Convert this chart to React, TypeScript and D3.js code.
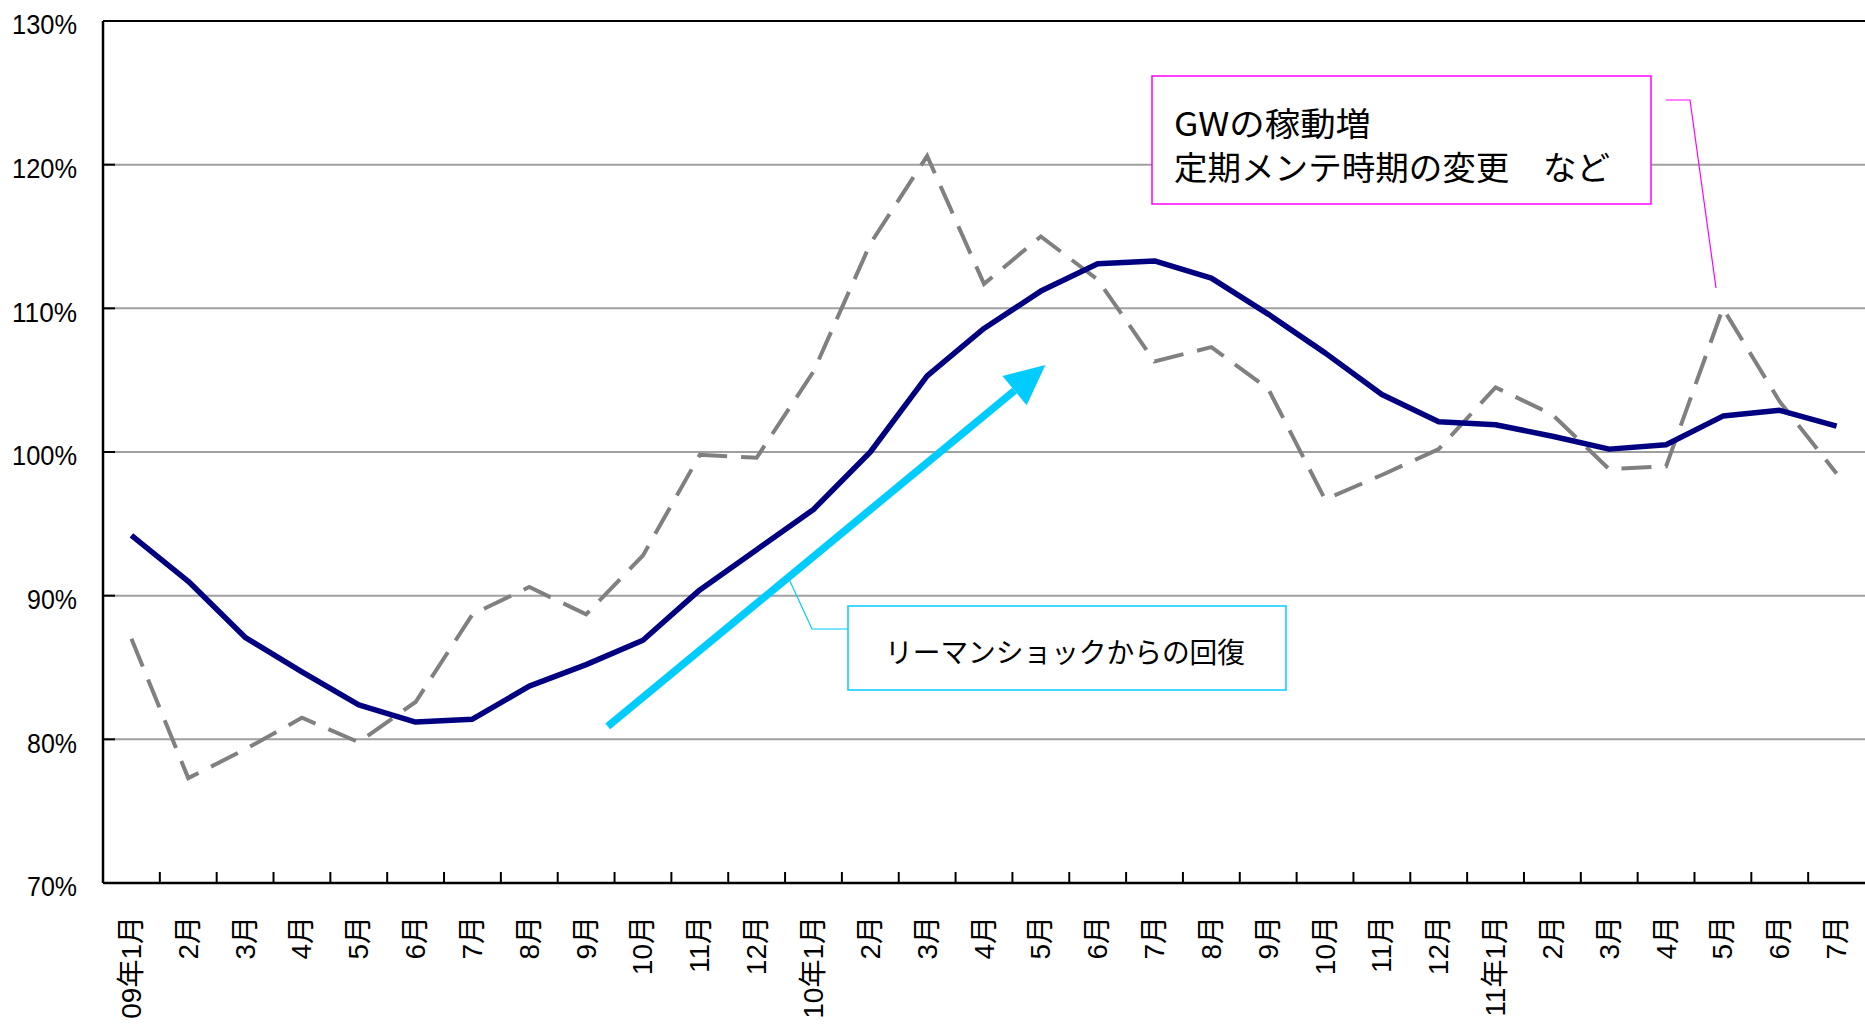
import React from "react";
import * as d3 from "d3";

const months = [
  "09年1月", "2月", "3月", "4月", "5月", "6月", "7月", "8月", "9月", "10月", "11月", "12月",
  "10年1月", "2月", "3月", "4月", "5月", "6月", "7月", "8月", "9月", "10月", "11月", "12月",
  "11年1月", "2月", "3月", "4月", "5月", "6月", "7月",
];
const trendValues = [
  94.2, 91.0, 87.1, 84.7, 82.4, 81.2, 81.4, 83.7, 85.2, 86.9, 90.4, 93.2,
  96.0, 100.0, 105.3, 108.6, 111.2, 113.1, 113.3, 112.1, 109.6, 106.9, 104.0, 102.1,
  101.9, 101.1, 100.2, 100.5, 102.5, 102.9, 101.8,
];
const monthlyValues = [
  87.0, 77.3, 79.3, 81.5, 79.8, 82.6, 88.7, 90.6, 88.7, 92.8, 99.8, 99.6,
  105.6, 114.5, 120.6, 111.7, 115.0, 112.0, 106.3, 107.3, 104.4, 96.7, 98.4, 100.2,
  104.5, 102.6, 98.8, 99.0, 110.0, 103.5, 98.5,
];
const yTicks = [70, 80, 90, 100, 110, 120, 130];

// annotations, in data units (category index, percent)
const arrowFrom = [8.38, 80.9];
const arrowTo = [16.08, 106.05];
const noteRecovery = "リーマンショックからの回復";
const noteGW = ["GWの稼動増", "定期メンテ時期の変更　など"];

const W = 1865;
const H = 1033;
const left = 103;
const top = 21;
const bottom = 883;

export default function App() {
  const idx = months.map((_, i) => i);
  const x = d3.scaleBand<number>().domain(idx).range([left, W]).padding(0);
  const bw = x.bandwidth();
  const cx = (i: number) => left + (i + 0.5) * bw;
  const y = d3.scaleLinear().domain([70, 130]).range([bottom, top]);

  const line = d3
    .line<number>()
    .x((_, i) => cx(i))
    .y((d) => y(d));

  // arrow geometry
  const x1 = cx(arrowFrom[0]);
  const y1 = y(arrowFrom[1]);
  const x2 = cx(arrowTo[0]);
  const y2 = y(arrowTo[1]);
  const ang = Math.atan2(y2 - y1, x2 - x1);
  const headLen = 40;
  const headHalf = 19;
  const bx = x2 - headLen * Math.cos(ang);
  const by = y2 - headLen * Math.sin(ang);
  const px = -Math.sin(ang) * headHalf;
  const py = Math.cos(ang) * headHalf;

  const font = "'Noto Sans CJK JP', 'Noto Sans', sans-serif";
  const tickFont = "'Liberation Sans', 'Noto Sans CJK JP', sans-serif";

  return (
    <svg
      width={W}
      height={H}
      style={{ position: "absolute", left: 0, top: 0, background: "#fff" }}
      fontFamily={font}
    >
      {/* grid */}
      {yTicks.map((t) => (
        <line key={"g" + t} x1={left} x2={W} y1={y(t)} y2={y(t)} stroke="#a0a0a0" strokeWidth={2} />
      ))}
      {/* frame */}
      <line x1={left} x2={W} y1={top} y2={top} stroke="#000" strokeWidth={2} />
      <line x1={left} x2={left} y1={top} y2={bottom} stroke="#000" strokeWidth={2.5} />
      <line x1={left} x2={W} y1={bottom} y2={bottom} stroke="#000" strokeWidth={2.5} />
      {/* y ticks */}
      {yTicks.map((t) => (
        <g key={"yt" + t}>
          <line x1={left} x2={left + 12} y1={y(t)} y2={y(t)} stroke="#000" strokeWidth={2} />
          <text
            x={77}
            y={y(t) + 4}
            dy="0.35em"
            textAnchor="end"
            fontSize={27}
            fontFamily={tickFont}
            textLength={t >= 100 ? 65 : 50}
            lengthAdjust="spacingAndGlyphs"
            fill="#000"
          >
            {t}%
          </text>
        </g>
      ))}
      {/* x ticks + labels */}
      {idx.slice(1).map((i) => (
        <line key={"xt" + i} x1={x(i)} x2={x(i)} y1={bottom} y2={bottom - 11} stroke="#000" strokeWidth={2} />
      ))}
      {months.map((m, i) => (
        <text
          key={"xl" + i}
          transform={`translate(${cx(i)},916) rotate(-90)`}
          textAnchor="end"
          dominantBaseline="central"
          fontSize={28}
          fontFamily={tickFont}
          fill="#000"
        >
          {m}
        </text>
      ))}

      {/* series */}
      <path d={line(monthlyValues) || ""} fill="none" stroke="#808080" strokeWidth={4} strokeDasharray="30 14" />
      <path d={line(trendValues) || ""} fill="none" stroke="#000080" strokeWidth={5.5} strokeLinejoin="round" />

      {/* recovery arrow */}
      <line x1={x1} y1={y1} x2={bx} y2={by} stroke="#00ccff" strokeWidth={7.5} />
      <polygon
        points={`${x2},${y2} ${bx + px},${by + py} ${bx - px},${by - py}`}
        fill="#00ccff"
      />

      {/* recovery callout */}
      <polyline points="848,629 812,629 789,579" fill="none" stroke="#00ccff" strokeWidth={1.2} />
      <rect x={848} y={606} width={438} height={84} fill="#fff" stroke="#00ccff" strokeWidth={1.5} />
      <text x={885} y={663} fontSize={28} textLength={360} lengthAdjust="spacingAndGlyphs" fill="#000">
        {noteRecovery}
      </text>

      {/* GW callout */}
      <polyline points="1666,100 1690,100 1716,288" fill="none" stroke="#ff00ff" strokeWidth={1.2} />
      <rect x={1152} y={76} width={499} height={128} fill="#fff" stroke="#ff00ff" strokeWidth={1.5} />
      <text x={1174} y={136} fontSize={33} textLength={197} lengthAdjust="spacingAndGlyphs" fill="#000">
        {noteGW[0]}
      </text>
      <text x={1174} y={180} fontSize={33} textLength={436} lengthAdjust="spacingAndGlyphs" fill="#000">
        {noteGW[1]}
      </text>
    </svg>
  );
}
